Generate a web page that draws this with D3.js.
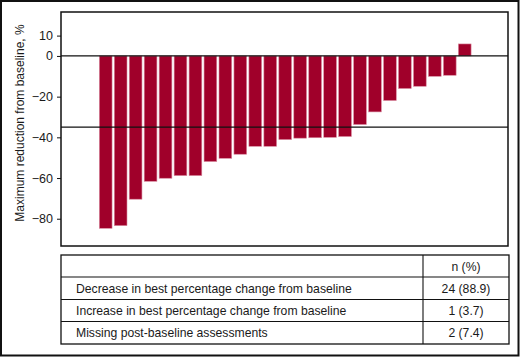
<!DOCTYPE html>
<html>
<head>
<meta charset="utf-8">
<script src="https://cdn.jsdelivr.net/npm/d3@7"></script>
<style>
  html, body { margin: 0; padding: 0; background: #fff; }
  svg { display: block; }
  text { font-family: "Liberation Sans", Arial, sans-serif; fill: #1a1a1a; }
</style>
</head>
<body>
<svg id="chart" width="520" height="357"></svg>
<script>
// ---- data ----
const patients = ["P01","P02","P03","P04","P05","P06","P07","P08","P09","P10","P11","P12","P13",
                  "P14","P15","P16","P17","P18","P19","P20","P21","P22","P23","P24","P25"];
const bestChange = [-84.7, -83.4, -70.4, -61.6, -60.1, -58.8, -58.8, -51.9, -50.3, -48.3, -44.4, -44.4, -41.1,
                    -40.4, -40.2, -40.0, -39.6, -33.7, -27.5, -21.9, -16.0, -14.9, -10.0, -9.5, 5.9];
const yTicks = [10, 0, -20, -40, -60, -80];
const refLine = -35;
const yTitle = "Maximum reduction from baseline, %";
const tableHeader = ["", "n (%)"];
const tableLabels = ["Decrease in best percentage change from baseline",
                     "Increase in best percentage change from baseline",
                     "Missing post-baseline assessments"];
const tableValues = ["24 (88.9)", "1 (3.7)", "2 (7.4)"];

// ---- layout ----
const svg = d3.select("#chart");
const W = 520, H = 357;
const plot = { left: 61, right: 508, top: 12, bottom: 246 };
const barColor = "#a0002a";

// outer frame
svg.append("rect").attr("x", 1).attr("y", 1).attr("width", W - 2.5).attr("height", H - 2.5)
  .attr("fill", "none").attr("stroke", "#111").attr("stroke-width", 2);

const y = d3.scaleLinear().domain([-93.4, 21.6]).range([plot.bottom, plot.top]);
const x = d3.scaleBand().domain(patients)
  .range([98.2, 98.2 + 25 * 14.96])
  .paddingInner(0.15).paddingOuter(0.075);

// bars
svg.append("g").selectAll("rect").data(bestChange).join("rect")
  .attr("x", (d, i) => x(patients[i]))
  .attr("width", x.bandwidth())
  .attr("y", d => y(Math.max(0, d)))
  .attr("height", d => Math.abs(y(d) - y(0)))
  .attr("fill", barColor)
  .attr("stroke", "#d98aa0").attr("stroke-width", 0.6);

// zero line and reference line
[0, refLine].forEach(v => {
  svg.append("line")
    .attr("x1", plot.left).attr("x2", plot.right)
    .attr("y1", y(v)).attr("y2", y(v))
    .attr("stroke", "#111").attr("stroke-width", 1.3);
});

// plot box
svg.append("rect").attr("x", plot.left).attr("y", plot.top)
  .attr("width", plot.right - plot.left).attr("height", plot.bottom - plot.top)
  .attr("fill", "none").attr("stroke", "#111").attr("stroke-width", 1.5);

// y axis
const yAxis = svg.append("g").attr("transform", `translate(${plot.left},0)`)
  .call(d3.axisLeft(y).tickValues(yTicks).tickSize(4).tickPadding(4).tickFormat(d3.format("d")));
yAxis.select(".domain").remove();
yAxis.selectAll(".tick line").attr("stroke", "#111").attr("stroke-width", 1);
yAxis.selectAll(".tick text").style("font-size", "12.5px").style("font-family", "Liberation Sans, Arial, sans-serif").attr("fill", "#1a1a1a");

// y title
svg.append("text")
  .attr("transform", `translate(24,${123}) rotate(-90)`)
  .attr("text-anchor", "middle")
  .style("font-size", "12px")
  .text(yTitle);

// ---- table ----
const tbl = { left: 61, right: 509, divider: 423 };
const rowEdges = [255, 277, 299.5, 321.5, 344];
const tg = svg.append("g");
tg.append("rect").attr("x", tbl.left).attr("y", rowEdges[0])
  .attr("width", tbl.right - tbl.left).attr("height", rowEdges[4] - rowEdges[0])
  .attr("fill", "none").attr("stroke", "#111").attr("stroke-width", 1.3);
rowEdges.slice(1, 4).forEach(yy => {
  tg.append("line").attr("x1", tbl.left).attr("x2", tbl.right).attr("y1", yy).attr("y2", yy)
    .attr("stroke", "#111").attr("stroke-width", 1.1);
});
tg.append("line").attr("x1", tbl.divider).attr("x2", tbl.divider)
  .attr("y1", rowEdges[0]).attr("y2", rowEdges[4]).attr("stroke", "#111").attr("stroke-width", 1.1);

const midCol = (tbl.divider + tbl.right) / 2;
tg.append("text").attr("x", midCol).attr("y", (rowEdges[0] + rowEdges[1]) / 2 + 4.5)
  .attr("text-anchor", "middle").style("font-size", "12.2px").text(tableHeader[1]);
tableLabels.forEach((lab, i) => {
  const cy = (rowEdges[i + 1] + rowEdges[i + 2]) / 2 + 4.5;
  tg.append("text").attr("x", 76).attr("y", cy).style("font-size", "12.2px").text(lab);
  tg.append("text").attr("x", midCol).attr("y", cy).attr("text-anchor", "middle")
    .style("font-size", "12.2px").text(tableValues[i]);
});
</script>
</body>
</html>
